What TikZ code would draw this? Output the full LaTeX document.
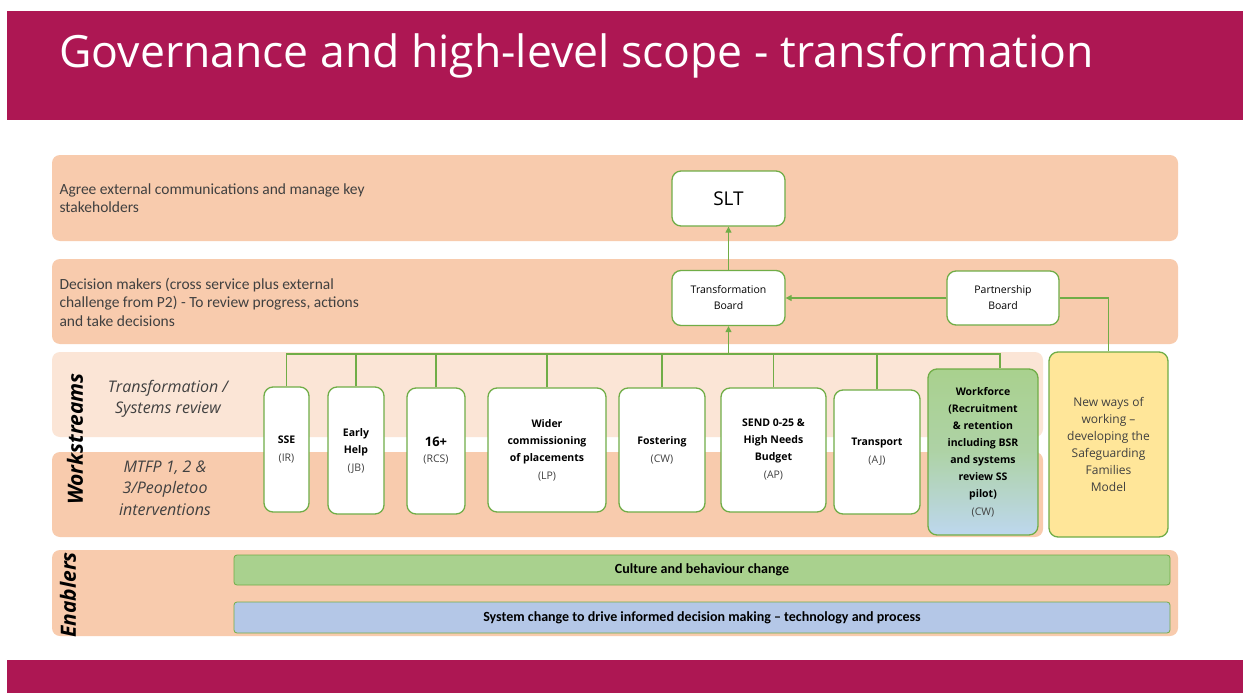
\documentclass[tikz,border=0pt]{standalone}
\usepackage{fontspec}
\setmainfont{Carlito}
\newfontfamily\segoe{Open Sans}
\usetikzlibrary{arrows.meta}

\definecolor{plum}{RGB}{173,23,83}
\definecolor{peach}{RGB}{248,203,173}
\definecolor{lightpeach}{RGB}{251,229,214}
\definecolor{leaf}{RGB}{112,173,71}
\definecolor{softgreen}{RGB}{169,209,142}
\definecolor{softblue}{RGB}{180,199,231}
\definecolor{skyblue}{RGB}{189,215,238}
\definecolor{butter}{RGB}{255,230,153}
\definecolor{ink}{RGB}{64,64,64}

\newcommand{\fsz}[2]{\fontsize{#1}{#2}\selectfont}
\newcommand{\who}[1]{\\[1pt]{\mdseries\color{ink}(#1)}}

\begin{document}
\begin{tikzpicture}[x=1pt,y=-1pt]
  \tikzstyle{band}=[rounded corners=8pt]
  \tikzstyle{box}=[draw=leaf, line width=1.3pt, fill=white, rounded corners=9pt,
                   align=center, inner sep=2pt]
  \tikzstyle{ws}=[box, font=\segoe\bfseries\fsz{10.5}{17}]
  \tikzstyle{bar}=[draw=leaf, line width=0.8pt, rounded corners=3pt,
                   minimum width=936, font=\bfseries\fsz{14}{16}]
  \tikzstyle{link}=[draw=leaf, line width=1.3pt]
  \tikzstyle{arrow}=[link, -{Triangle[length=6pt,width=6pt]}]
  \tikzstyle{side}=[align=center, font=\segoe\itshape\fsz{16}{21.5}, text=ink]
  \tikzstyle{note}=[anchor=west, align=left, font=\fsz{15.5}{18.5}, text=ink]
  \tikzstyle{rowlab}=[rotate=90, font=\segoe\bfseries\itshape\fsz{21}{22}]

  \useasboundingbox (0,0) rectangle (1243,693);
  \fill[white] (0,0) rectangle (1243,693);

  % title and footer bars
  \fill[plum] (7,11) rectangle (1243,120);
  \fill[plum] (7,660) rectangle (1243,693);
  \node[anchor=base west, text=white, font=\segoe\fsz{44.5}{50}] (title) at (56,68)
    {Governance and high-level scope - transformation};

  % background bands
  \fill[band, peach] (52,155) rectangle (1178,241);
  \fill[band, peach] (52,259) rectangle (1178,344);
  \fill[band, lightpeach] (52,352) rectangle (1043,437);
  \fill[band, peach] (52,452) rectangle (1043,537);
  \fill[band, peach] (52,550) rectangle (1178,636);

  \node[note] (agree) at (56,198)
    {Agree external communications and manage key\\stakeholders};
  \node[note] (decide) at (56,302)
    {Decision makers (cross service plus external\\challenge from P2) - To review progress, actions\\and take decisions};

  \node[side] (trans) at (168,399) {Transformation /\\Systems review};
  \node[side] (mtfp) at (165,488) {MTFP 1, 2 \&\\3/Peopletoo\\interventions};
  \node[rowlab] (wslab) at (75,439) {Workstreams};
  \node[rowlab] (enlab) at (68,595) {Enablers};

  % governance boxes
  \node[box, minimum width=113, minimum height=55, font=\segoe\fsz{19}{20}] (slt) at (728.5,198.5) {SLT};
  \node[box, minimum width=113, minimum height=55, font=\segoe\fsz{10.5}{16}] (tb) at (728.5,298) {Transformation\\Board};
  \node[box, minimum width=112, minimum height=54, font=\segoe\fsz{10.5}{16}] (pb) at (1003,298) {Partnership\\Board};

  % workstreams
  \node[ws, minimum width=45, minimum height=125] (sse) at (286.5,449.5) {SSE\who{IR}};
  \node[ws, minimum width=56, minimum height=127] (eh) at (356,450.5) {Early\\Help\who{JB}};
  \node[ws, minimum width=58, minimum height=126, font=\segoe\bfseries\fsz{13}{17}] (sixteen) at (436,451)
    {16+\\[-1pt]{\fsz{10.5}{17}\mdseries\color{ink}(RCS)}};
  \node[ws, minimum width=118, minimum height=124] (wider) at (547,450) {Wider\\commissioning\\of placements\who{LP}};
  \node[ws, minimum width=86, minimum height=124] (fost) at (662,450) {Fostering\who{CW}};
  \node[ws, minimum width=105, minimum height=124] (send) at (773.5,450) {SEND 0-25 \&\\High Needs\\Budget\who{AP}};
  \node[ws, minimum width=86, minimum height=124] (trp) at (877,452) {Transport\who{AJ}};
  \node[ws, minimum width=110, minimum height=166, top color=softgreen, bottom color=skyblue,
        middle color=softgreen!75!skyblue] (wf) at (983,452)
    {Workforce\\(Recruitment\\\& retention\\including BSR\\and systems\\review SS\\pilot)\who{CW}};
  \node[box, fill=butter, minimum width=119, minimum height=185, font=\segoe\fsz{12}{17}, text=ink] (nw) at (1108.5,444.5)
    {New ways of\\working \textendash\\developing the\\Safeguarding\\Families\\Model};

  % enablers
  \node[bar, fill=softgreen, minimum height=30] (culture) at (702,570) {Culture and behaviour change};
  \node[bar, fill=softblue, minimum height=31] (sys) at (702,617.5)
    {System change to drive informed decision making \textendash{} technology and process};

  % connectors
  \coordinate (bus) at (728.5,354);
  \coordinate (wfin) at ([xshift=17pt]wf.north);
  \draw[link] (sse.north) -- (sse.north |- bus) -- (wfin |- bus) -- (wfin);
  \foreach \n in {eh,sixteen,wider,fost,send,trp}
    \draw[link] (\n.north) -- (\n.north |- bus);
  \draw[arrow] (bus) -- (tb.south);
  \draw[arrow] (tb.north) -- (slt.south);
  \draw[arrow] (pb.west) -- (tb.east);
  \draw[link] (pb.east) -| (nw.north);
\end{tikzpicture}
\end{document}
